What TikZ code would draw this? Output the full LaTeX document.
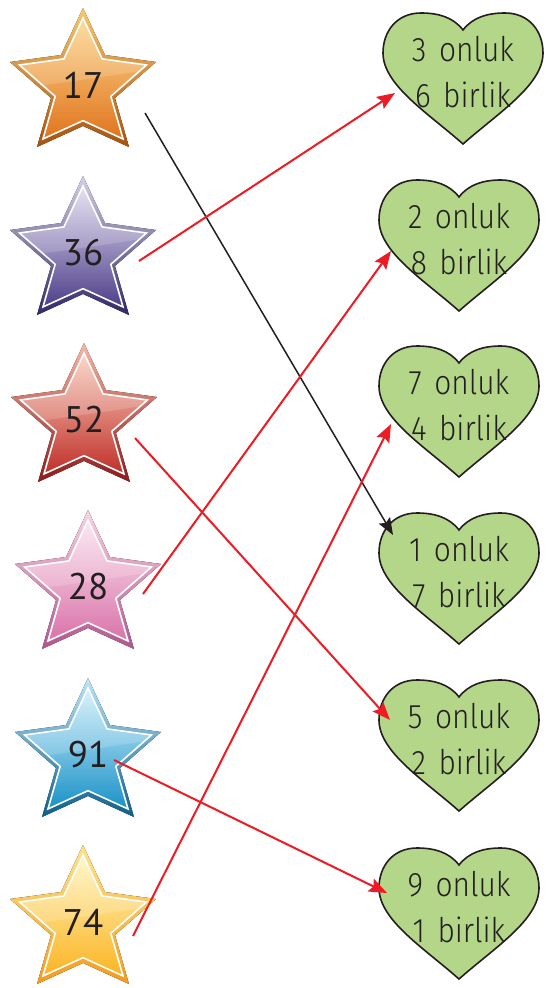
\documentclass[tikz,border=0pt]{standalone}
\usepackage{fontspec}
\setmainfont{PT Sans}
\newfontfamily\numfont{PT Sans}
\newfontfamily\heartfont{Fira Sans Light}[FakeStretch=0.88, WordSpace=1.5]
\usetikzlibrary{arrows.meta}
\definecolor{ink}{HTML}{231F20}
\definecolor{arrred}{HTML}{ED1C24}
\definecolor{heartgreen}{HTML}{B4D689}
% star colours: border top, border bottom, inner top, inner middle, inner bottom
\definecolor{obt}{HTML}{F9C86E}\definecolor{obb}{HTML}{A65210}
\definecolor{oit}{HTML}{FDD78C}\definecolor{oim}{HTML}{F39A3E}\definecolor{oib}{HTML}{E0741E}
\definecolor{pbt}{HTML}{D6CFE6}\definecolor{pbb}{HTML}{2F2868}
\definecolor{pit}{HTML}{E2DCF0}\definecolor{pim}{HTML}{8C7BBF}\definecolor{pib}{HTML}{4E3F8A}
\definecolor{rbt}{HTML}{F6B7A6}\definecolor{rbb}{HTML}{8E1A1A}
\definecolor{rit}{HTML}{FAD0C0}\definecolor{rim}{HTML}{EA6A55}\definecolor{rib}{HTML}{C0302A}
\definecolor{kbt}{HTML}{F8D3E3}\definecolor{kbb}{HTML}{B0568E}
\definecolor{kit}{HTML}{FBE3EE}\definecolor{kim}{HTML}{EE9CC5}\definecolor{kib}{HTML}{D973AA}
\definecolor{bbt}{HTML}{BDE6F8}\definecolor{bbb}{HTML}{0D5F8C}
\definecolor{bit}{HTML}{D0F0FC}\definecolor{bim}{HTML}{22B8EC}\definecolor{bib}{HTML}{1A92C8}
\definecolor{ybt}{HTML}{FFE58A}\definecolor{ybb}{HTML}{F39B1E}
\definecolor{yit}{HTML}{FFF5BE}\definecolor{yim}{HTML}{FFD84A}\definecolor{yib}{HTML}{FBB424}
\def\starshape{(0,-77) -- (22,-30) -- (73,-23) -- (32,13) -- (46,62) -- (0,41) -- (-46,62) -- (-32,13) -- (-73,-23) -- (-22,-30) -- cycle}
\tikzset{
  pics/mystar/.style n args={5}{code={
    \fill[top color=#1, bottom color=#2] \starshape;
    \fill[top color=#3, middle color=#4, bottom color=#5, scale=0.87] \starshape;
    \begin{scope}
      \clip[scale=0.87] \starshape;
      \fill[white, opacity=0.16] (-90,-90) -- (90,-90) -- (90,-20) .. controls (30,-8) and (-30,-2) .. (-90,8) -- cycle;
    \end{scope}
    \draw[white, line width=1.6pt, line join=miter, scale=0.87] \starshape;
  }},
  pics/myheart/.style={code={
    \filldraw[fill=heartgreen, draw=ink, line width=1.6pt]
      (0,17) .. controls (10,4) and (25,0) .. (42,0)
      .. controls (66,0) and (80,18) .. (80,40)
      .. controls (80,72) and (35,100) .. (0,131)
      .. controls (-35,100) and (-80,72) .. (-80,40)
      .. controls (-80,18) and (-66,0) .. (-42,0)
      .. controls (-25,0) and (-10,4) .. (0,17) -- cycle;
  }},
  numstyle/.style={text=ink, font=\fontsize{37}{40}\selectfont\numfont, inner sep=0pt},
  hearttext/.style={text=ink, align=center, font=\fontsize{34}{46}\selectfont\heartfont, inner sep=0pt},
  redarrow/.style={draw=arrred, line width=2pt, -{Stealth[length=18pt, width=14pt, inset=3pt]}},
  blackarrow/.style={draw=ink, line width=1.5pt, -{Stealth[length=17pt, width=13pt, inset=3pt]}}
}
\begin{document}
\begin{tikzpicture}[x=1pt, y=-1pt]
\fill[white] (0,0) rectangle (550,988);
\useasboundingbox (0,0) rectangle (550,988);
% stars
\pic at (83,85) {mystar={obt}{obb}{oit}{oim}{oib}};
\node[numstyle] (s17) at (83,85) {17};
\pic at (83,253) {mystar={pbt}{pbb}{pit}{pim}{pib}};
\node[numstyle] (s36) at (83,253) {36};
\pic at (84,420) {mystar={rbt}{rbb}{rit}{rim}{rib}};
\node[numstyle] (s52) at (84,420) {52};
\pic at (88,587) {mystar={kbt}{kbb}{kit}{kim}{kib}};
\node[numstyle] (s28) at (88,587) {28};
\pic at (88,755) {mystar={bbt}{bbb}{bit}{bim}{bib}};
\node[numstyle] (s91) at (88,755) {91};
\pic at (83,922) {mystar={ybt}{ybb}{yit}{yim}{yib}};
\node[numstyle] (s74) at (83,922) {74};
% hearts
\pic at (463,13) {myheart};
\node[hearttext] (h1) at (463,72) {3 onluk\\6 birlik};
\pic at (459,180) {myheart};
\node[hearttext] (h2) at (459,239) {2 onluk\\8 birlik};
\pic at (459,346) {myheart};
\node[hearttext] (h3) at (459,405) {7 onluk\\4 birlik};
\pic at (459,513) {myheart};
\node[hearttext] (h4) at (459,572) {1 onluk\\7 birlik};
\pic at (459,680) {myheart};
\node[hearttext] (h5) at (459,739) {5 onluk\\2 birlik};
\pic at (459,848) {myheart};
\node[hearttext] (h6) at (459,907) {9 onluk\\1 birlik};
% arrow ends
\coordinate (a17) at (145,113);
\coordinate (a36) at (139,261);
\coordinate (a52) at (135,438);
\coordinate (a28) at (143,594);
\coordinate (a91) at (114,760);
\coordinate (a74) at (133,936);
\coordinate (e1) at (395,93);
\coordinate (e2) at (391,251);
\coordinate (e3) at (391,424);
\coordinate (e4) at (393,535);
\coordinate (e5) at (390,720);
\coordinate (e6) at (387,893);
\draw[blackarrow] (a17) -- (e4);
\draw[redarrow] (a36) -- (e1);
\draw[redarrow] (a52) -- (e5);
\draw[redarrow] (a28) -- (e2);
\draw[redarrow] (a91) -- (e6);
\draw[redarrow] (a74) -- (e3);
\end{tikzpicture}
\end{document}
